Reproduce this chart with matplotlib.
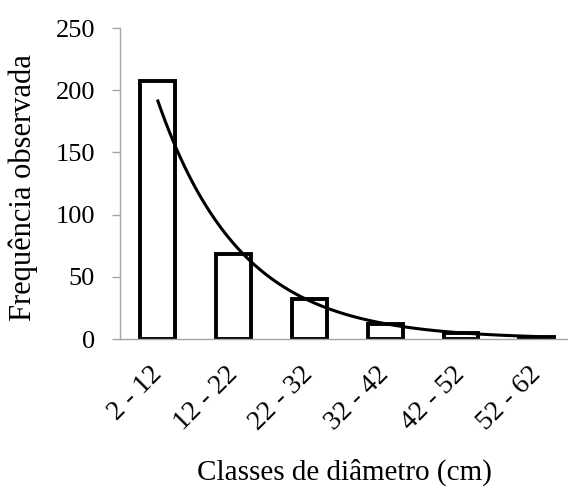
import numpy as np
import matplotlib.pyplot as plt

plt.rcParams.update({
    "font.family": ["Liberation Serif", "DejaVu Serif"],
    "font.size": 19,
})

classes = ["2 - 12", "12 - 22", "22 - 32", "32 - 42", "42 - 52", "52 - 62"]
freq_obs = [207, 68, 32, 12, 5, 2]

x = np.arange(len(classes))

# exponential trendline fitted to the observed frequencies (like the spreadsheet one)
b, ln_a = np.polyfit(x, np.log(freq_obs), 1)
xs = np.linspace(x[0], x[-1], 200)
trend = np.exp(ln_a + b * xs)

W, H = 568, 488
fig = plt.figure(figsize=(W / 100, H / 100), dpi=100)
ax = fig.add_axes([120 / W, 1 - 339 / H, 447 / W, 311 / H])

ax.bar(x, freq_obs, width=0.46, facecolor="white", edgecolor="black", linewidth=2.8, zorder=2)
ax.plot(xs, trend, color="black", linewidth=2.2, zorder=3)

ax.set_xlim(-0.5, 5.4)
ax.set_ylim(0, 250)
ax.set_yticks(range(0, 251, 50))
ax.set_xticks(x)
ax.set_xticklabels(classes, rotation=45, ha="right", va="center",
                   rotation_mode="anchor", fontsize=20)
ax.tick_params(axis="x", length=0, pad=23)
ax.tick_params(axis="y", length=6, color="#a6a6a6", width=1, pad=12, labelsize=19)

for s in ["top", "right"]:
    ax.spines[s].set_visible(False)
for s in ["left", "bottom"]:
    ax.spines[s].set_color("#a6a6a6")
    ax.spines[s].set_linewidth(1)

fig.text(23 / W, 1 - 188 / H, "Frequência observada", rotation=90,
         ha="center", va="center", fontsize=22)
fig.text(344 / W, 8 / H, "Classes de diâmetro (cm)", ha="center",
         va="baseline", fontsize=21)

fig.savefig("out.png", dpi=100, facecolor="white")
